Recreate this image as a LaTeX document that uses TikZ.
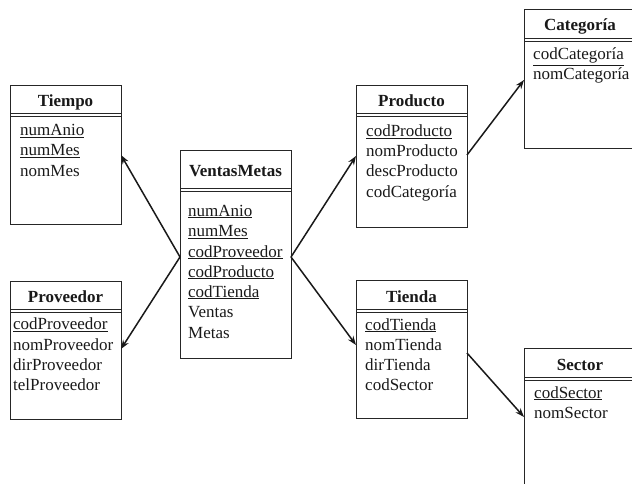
\documentclass[tikz,border=0pt]{standalone}
\usepackage{fontspec}
\setmainfont{Liberation Serif}
\usetikzlibrary{arrows.meta}
% entity box: name, left, top, right, bottom, rule y, title baseline, title
\newcommand\erbox[8]{%
  \node[entbox, minimum width={#4-#2}, minimum height={#5-#3}] (#1) at (#2,#3) {};
  \draw[rulel] (#2,#6) -- (#4,#6) (#2,{#6+3}) -- (#4,{#6+3});
  \node[ttl] (#1-title) at ({(#2+#4)/2},#7) {#8};
}
\begin{document}
\begin{tikzpicture}[x=1pt,y=-1pt,
  entbox/.style={draw=black!85, line width=0.9pt, rectangle, inner sep=0pt, anchor=north west},
  rulel/.style={draw=black!85, line width=0.8pt},
  ttl/.style={font=\fontsize{17}{20}\selectfont\bfseries, text=black!90, anchor=base, inner sep=0pt},
  attr/.style={font=\fontsize{17}{20}\selectfont, text=black!90, anchor=base west, inner sep=0pt},
  rel/.style={draw=black!90, line width=1.5pt, -{Stealth[length=9pt,width=6.5pt]}}]
\clip (0,0) rectangle (632,484);
\useasboundingbox (0,0) rectangle (632,484);

% fact table
\erbox{ventas}{180}{150}{291}{358}{188}{177}{VentasMetas}
\node[attr] (v1) at (188,216) {\underline{numAnio}};
\node[attr] (v2) at (188,236.5) {\underline{numMes}};
\node[attr] (v3) at (188,257) {\underline{codProveedor}};
\node[attr] (v4) at (188,277) {\underline{codProducto}};
\node[attr] (v5) at (188,297) {\underline{codTienda}};
\node[attr] (v6) at (188,317.5) {Ventas};
\node[attr] (v7) at (188,338) {Metas};

% dimensions
\erbox{tiempo}{10}{85}{121}{224}{113}{107}{Tiempo}
\node[attr] (t1) at (20,136) {\underline{numAnio}};
\node[attr] (t2) at (20,156) {\underline{numMes}};
\node[attr] (t3) at (20,176.5) {nomMes};

\erbox{proveedor}{10}{281}{121}{419}{309}{302}{Proveedor}
\node[attr] (p1) at (13,329.5) {\underline{codProveedor}};
\node[attr] (p2) at (13,350) {nomProveedor};
\node[attr] (p3) at (13,370) {dirProveedor};
\node[attr] (p4) at (13,390) {telProveedor};

\erbox{producto}{356}{85}{467}{227}{113}{107}{Producto}
\node[attr] (r1) at (366,136.5) {\underline{codProducto}};
\node[attr] (r2) at (366,156.5) {nomProducto};
\node[attr] (r3) at (366,177) {descProducto};
\node[attr] (r4) at (366,197) {codCategoría};

\erbox{tienda}{356}{280}{467}{418}{309}{302}{Tienda}
\node[attr] (d1) at (365,330) {\underline{codTienda}};
\node[attr] (d2) at (365,350) {nomTienda};
\node[attr] (d3) at (365,370) {dirTienda};
\node[attr] (d4) at (365,390) {codSector};

\erbox{categoria}{524}{9}{636}{148}{38}{31}{Categoría}
\node[attr] (c1) at (533,60) {\underline{codCategoría}};
\node[attr] (c2) at (533,80) {nomCategoría};

\erbox{sector}{524}{348}{636}{500}{377}{370}{Sector}
\node[attr] (s1) at (534,398) {\underline{codSector}};
\node[attr] (s2) at (534,418) {nomSector};

% connector end points on the box edges
\coordinate (vL) at (180,257);
\coordinate (vR) at (291,257);
\coordinate (tIn) at (121,155);
\coordinate (pIn) at (121,349);
\coordinate (rIn) at (356,156);
\coordinate (dIn) at (356,345);
\coordinate (rOut) at (467,155);
\coordinate (cIn) at (524,80);
\coordinate (dOut) at (467,353);
\coordinate (sIn) at (524,417);

\draw[rel] (vL) -- (tIn);
\draw[rel] (vL) -- (pIn);
\draw[rel] (vR) -- (rIn);
\draw[rel] (vR) -- (dIn);
\draw[rel] (rOut) -- (cIn);
\draw[rel] (dOut) -- (sIn);
\end{tikzpicture}
\end{document}
